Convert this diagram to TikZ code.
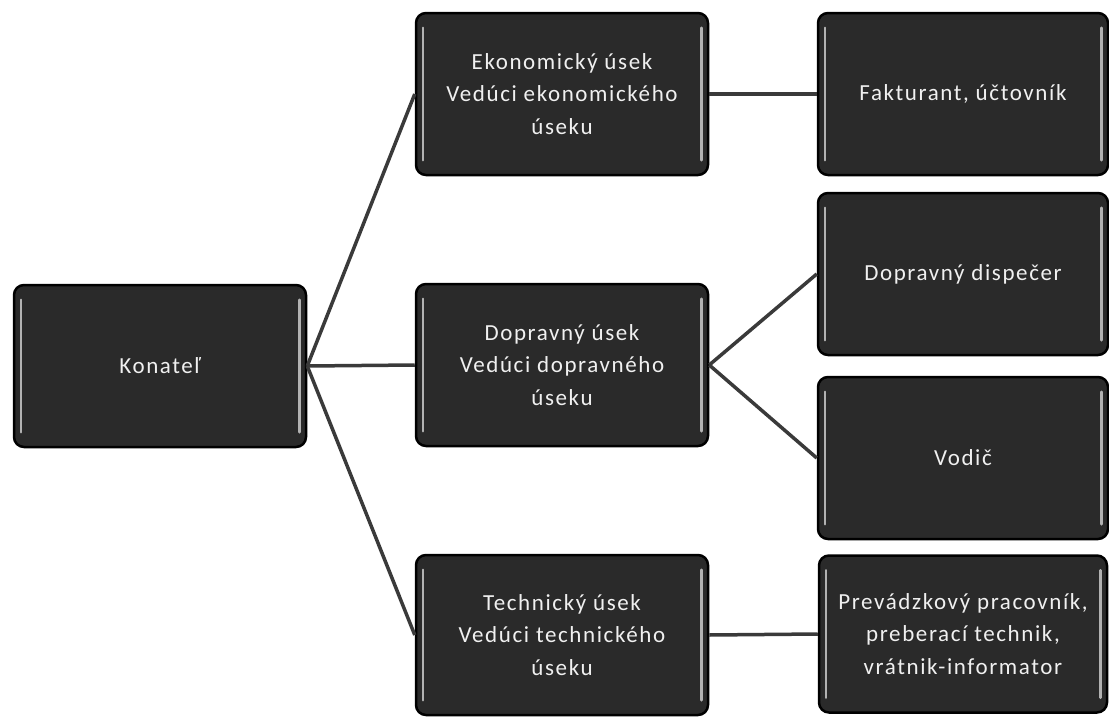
\documentclass[tikz,border=0pt]{standalone}
\usepackage{fontspec}
\setmainfont{Carlito}
\usepackage{tikz}
\usetikzlibrary{calc,positioning}
\newcommand{\boxw}{292}
\newcommand{\boxh}{162}
\definecolor{boxfill}{RGB}{42,42,42}
\definecolor{linegray}{RGB}{58,58,58}

\begin{document}
\begin{tikzpicture}[x=1pt,y=-1pt,style=thick]
            \useasboundingbox (0,0) rectangle (1109,718);
            \begin{scope}[shape=rectangle,rounded corners=10pt]
            \tikzstyle{every node}=[draw=black,line width=2.5pt,fill=boxfill,text=black!6,
                align=center,minimum width=\boxw pt,minimum height=\boxh pt,
                font=\fontsize{23}{32.5}\selectfont\addfontfeature{LetterSpace=7}]
            
            \node (k_0) at (160,366) {Konateľ};
            
            \node (u_1) at (562,94) {Ekonomický úsek\\Vedúci ekonomického\\úseku};
            \node (u_2) at (562,365) {Dopravný úsek\\Vedúci dopravného\\úseku};
            \node[minimum height=160pt] (u_3) at (562,635) {Technický úsek\\Vedúci technického\\úseku};
            
            \node[minimum width=290pt] (p_1) at (963,94) {Fakturant, účtovník};
            \node[minimum width=290pt] (p_2) at (963,274) {Dopravný dispečer};
            \node[minimum width=290pt] (p_3) at (963,458) {Vodič};
            \node[minimum width=288pt,minimum height=157pt] (p_4) at (963,634) {Prevádzkový pracovník,\\preberací technik,\\vrátnik-informator};
            
            \end{scope}
            
            % light edges inside the boxes
            \foreach \n in {k_0,u_1,u_2,u_3,p_1,p_2,p_3,p_4} {
                \draw[gray!60,line width=2.5pt,line cap=round] ($(\n.north west)+(8,16)$) -- ($(\n.south west)+(8,-16)$);
                \draw[gray!60,line width=2.5pt,line cap=round] ($(\n.north east)+(-8,16)$) -- ($(\n.south east)+(-8,-16)$);
            }
            
            \draw [-,linegray,line width=3.5pt] (k_0.east) -- (u_1.west);
            \draw [-,linegray,line width=3.5pt] (k_0.east) -- (u_2.west);
            \draw [-,linegray,line width=3.5pt] (k_0.east) -- (u_3.west);
            
            \draw [-,linegray,line width=3.5pt] (u_1.east) -- (p_1.west);
            \draw [-,linegray,line width=3.5pt] (u_2.east) -- (p_2.west);
            \draw [-,linegray,line width=3.5pt] (u_2.east) -- (p_3.west);
            \draw [-,linegray,line width=3.5pt] (u_3.east) -- (p_4.west);
        \end{tikzpicture}
\end{document}
